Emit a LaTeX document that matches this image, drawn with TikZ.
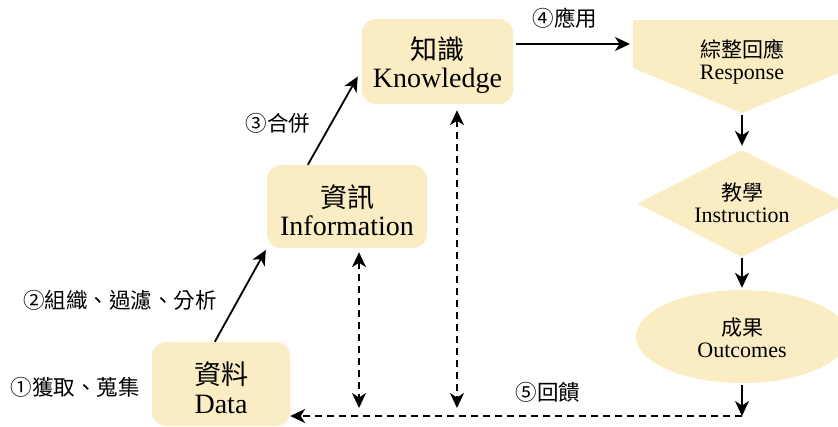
\documentclass[tikz,border=0pt]{standalone}
\usepackage{fontspec}
\setmainfont{Liberation Serif}
\newfontfamily\cjk{Noto Sans CJK TC}
\usetikzlibrary{shapes.geometric,arrows.meta,calc}
\definecolor{boxfill}{RGB}{250,237,196}
\newcommand{\lift}{\rule{0pt}{30pt}}
\tikzset{
  stage/.style={fill=boxfill, rounded corners=14pt, align=center, inner sep=0pt,
    font=\fontsize{28}{28.5}\selectfont},
  cjkbig/.style={font=\cjk\fontsize{27}{28}\selectfont},
  outcome/.style={fill=boxfill, inner sep=0pt},
  outtext/.style={align=center, inner sep=0pt, font=\fontsize{22}{22.5}\selectfont},
  steplabel/.style={font=\cjk\fontsize{21.5}{24}\selectfont, inner sep=0pt},
  tip/.tip={Stealth[length=15pt,width=14pt,inset=4.5pt]},
  flow/.style={line width=1.8pt, -tip},
  loop/.style={line width=1.8pt, dash pattern=on 7pt off 5pt},
  loopend/.style={tip-tip}
}
\begin{document}
\begin{tikzpicture}[x=1pt,y=-1pt]
\useasboundingbox (0,0) rectangle (838,426);

% the three stages
\node[stage, minimum width=138pt, minimum height=84pt] (data) at (221,384) {\lift{\cjk\fontsize{27}{28}\selectfont 資料}\\Data};
\node[stage, minimum width=160pt, minimum height=83pt] (info) at (347,206.5) {\lift{\cjk\fontsize{27}{28}\selectfont 資訊}\\Information};
\node[stage, minimum width=151pt, minimum height=85pt] (know) at (437.5,61.5) {\lift{\cjk\fontsize{27}{28}\selectfont 知識}\\Knowledge};

% response pentagon
\fill[boxfill] (633,20) -- (851,20) -- (851,68) -- (742,113) -- (633,68) -- cycle;
\node[outtext] (resp) at (742,62) {{\cjk\fontsize{21}{22}\selectfont 綜整回應}\\Response};
\coordinate (respin) at (633,44);
\coordinate (resptip) at (742,113);

% instruction and outcomes
\node[outcome, diamond, minimum width=210pt, minimum height=107pt] (instr) at (742,203.5) {};
\node[outtext] (instrtext) at (742,203) {{\cjk\fontsize{21}{22}\selectfont 教學}\\Instruction};
\node[outcome, ellipse, minimum width=212pt, minimum height=93pt] (outc) at (742,336.5) {};
\node[outtext] (outctext) at (742,338) {{\cjk\fontsize{21}{22}\selectfont 成果}\\Outcomes};
\coordinate (fb) at (742,416);

% main flow
\draw[flow, shorten >=2pt] ([xshift=63pt]data.north west) -- (info.south west);
\draw[flow] ([xshift=41pt]info.north west) -- ([yshift=-15pt, xshift=-4pt]know.west);
\draw[flow, shorten >=3pt] ([yshift=17.5pt, xshift=3pt]know.east) -- (respin);
\draw[flow, shorten <=2pt, shorten >=4pt] (resptip) -- (instr.north);
\draw[flow, shorten <=1pt, shorten >=2pt] (instr.south) -- (outc.north);
\draw[flow, shorten <=2pt] (outc.south) -- (fb);

% feedback
\draw[loop, -tip] (fb) -- (data.east |- fb);
\draw[loop, loopend, shorten <=4pt, shorten >=8pt] ([xshift=12pt]info.south) -- ([xshift=12pt]info.south |- fb);
\draw[loop, loopend, shorten <=6pt, shorten >=8pt] ([xshift=19.5pt]know.south) -- ([xshift=19.5pt]know.south |- fb);

% step labels
\node[steplabel] (l1) at (75,387) {①獲取、蒐集};
\node[steplabel] (l2) at (120,300) {②組織、過濾、分析};
\node[steplabel] (l3) at (278,123) {③合併};
\node[steplabel] (l4) at (565,18) {④應用};
\node[steplabel] (l5) at (548,392) {⑤回饋};
\end{tikzpicture}
\end{document}
